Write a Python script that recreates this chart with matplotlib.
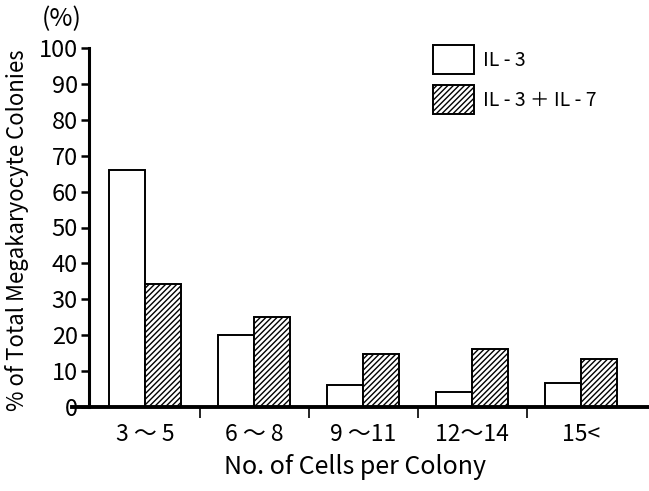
"""Megakaryocyte colony size distribution: IL-3 vs IL-3 + IL-7."""

import matplotlib
matplotlib.use("Agg")
import matplotlib.pyplot as plt
import numpy as np

categories = ["3 ～ 5", "6 ～ 8", "9 ～11", "12～14", "15<"]
il3 = [66, 20, 6, 4.3, 6.6]
il3_il7 = [34.3, 25.2, 14.7, 16.1, 13.3]
yticks = [0, 10, 20, 30, 40, 50, 60, 70, 80, 90, 100]

plt.rcParams["font.family"] = ["Noto Sans CJK JP", "DejaVu Sans"]
plt.rcParams["hatch.linewidth"] = 1.0

fig = plt.figure(figsize=(6.49, 4.91), dpi=100)
ax = fig.add_axes([72 / 649, 84 / 491, 577 / 649, 359 / 491])

x = np.arange(len(categories))
w = 0.33
ax.bar(x - w / 2, il3, w, color="white", edgecolor="black", linewidth=1.4, label="IL - 3")
ax.bar(x + w / 2, il3_il7, w, color="white", edgecolor="black", linewidth=1.4,
       hatch="//////", label="IL - 3 ＋ IL - 7")

ax.set_xlim(-0.67, 4.62)
ax.set_ylim(0, 100)

ax.spines["top"].set_visible(False)
ax.spines["right"].set_visible(False)
ax.spines["left"].set_position(("data", -0.514))
ax.spines["left"].set_linewidth(2.2)
ax.spines["bottom"].set_linewidth(2.8)

ax.set_yticks(yticks)
ax.tick_params(axis="y", direction="out", length=6, width=1.8, labelsize=17, pad=2)
ax.set_xticks(x[:-1] + 0.5)
ax.set_xticklabels([])
ax.tick_params(axis="x", direction="out", length=8, width=1.2)
for xi, lab in zip(x, categories):
    ax.text(xi, -4.5, lab, ha="center", va="top", fontsize=16.5)

fig.text(355 / 649, 1 - 467 / 491, "No. of Cells per Colony", ha="center", va="center", fontsize=18)
fig.text(17 / 649, 1 - 230 / 491, "% of Total Megakaryocyte Colonies", ha="center", va="center",
         rotation=90, fontsize=16)
fig.text(62 / 649, 1 - 19 / 491, "(%)", ha="center", va="center", fontsize=18)

ax.legend(loc="upper left", bbox_to_anchor=(0.613, 1.03), frameon=False, fontsize=14,
          handlelength=2.1, handleheight=1.9, labelspacing=0.6, handletextpad=0.45,
          borderaxespad=0)

fig.savefig("out.png", dpi=100)
